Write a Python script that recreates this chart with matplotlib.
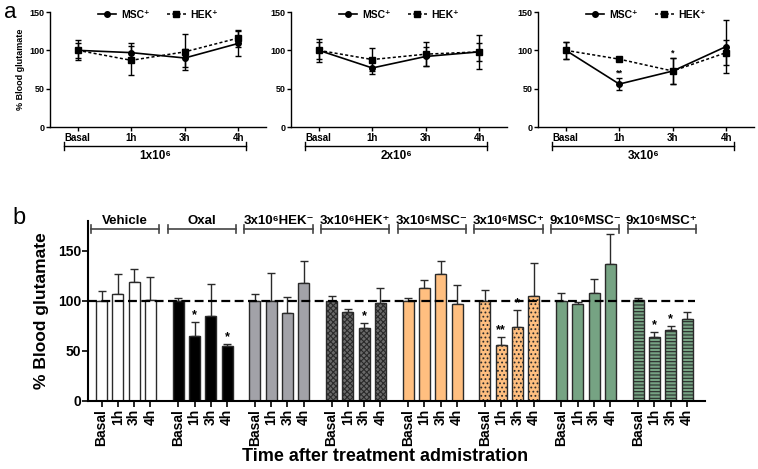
import matplotlib
matplotlib.use('Agg')
import matplotlib.pyplot as plt
import numpy as np

plt.rcParams['font.family'] = ['Liberation Sans', 'DejaVu Sans']
plt.rcParams['font.weight'] = 'bold'
plt.rcParams['axes.labelweight'] = 'bold'
plt.rcParams['hatch.linewidth'] = 0.8

# ---- panel a data ----
times = ['Basal', '1h', '3h', '4h']
doses = ['1x10⁶', '2x10⁶', '3x10⁶']
msc_mean = [[100, 97, 90, 109], [100, 77, 92, 98], [100, 56, 73, 105]]
msc_err = [[10, 12, 12, 16], [11, 8, 12, 22], [11, 8, 17, 34]]
hek_mean = [[100, 87, 98, 116], [100, 88, 95, 98], [100, 88.5, 73, 97]]
hek_err = [[13, 19, 23, 11], [15, 15, 16, 12], [11, 2, 17, 16]]
stars_a = [(2, 1, '**'), (2, 2, '*')]   # (panel, time index, label)

# ---- panel b data ----
groups = ['Vehicle', 'Oxal', '3x10⁶HEK⁻', '3x10⁶HEK⁺',
          '3x10⁶MSC⁻', '3x10⁶MSC⁺', '9x10⁶MSC⁻', '9x10⁶MSC⁺']
vals = [[100, 107, 119, 101], [100, 65, 85, 55], [100, 100, 88, 118], [100, 89, 73, 98],
        [100, 113, 127, 97], [100, 56, 74, 105], [100, 97, 108, 137], [101, 64, 71, 82]]
errs = [[10, 20, 13, 23], [3, 14, 32, 2], [7, 28, 16, 22], [5, 3, 5, 15],
        [3, 8, 13, 19], [11, 8, 17, 33], [8, 2, 14, 30], [2, 5, 3.5, 6.5]]
stars_b = [(1, 1, '*'), (1, 3, '*'), (3, 2, '*'), (5, 1, '**'), (5, 2, '*'), (7, 1, '*'), (7, 2, '*')]

orange = '#FFBF80'
green = '#76A383'
styles = [('white', None), ('black', None), ('#A2A2A8', None), ('#6a6a6a', 'xxxxxx'),
          (orange, None), (orange, '....'), (green, None), (green, '-----')]

fig = plt.figure(figsize=(7.58, 4.69), dpi=100)
W, H = 758.0, 469.0

# ---- panel a ----
lefts = [50, 291, 538]
for p in range(3):
    ax = fig.add_axes([lefts[p] / W, 1 - 127 / H, 216 / W, 115 / H])
    x = np.arange(4)
    ax.errorbar(x, msc_mean[p], yerr=msc_err[p], fmt='none', ecolor='black',
                capsize=2.5, elinewidth=1)
    ax.errorbar(x, hek_mean[p], yerr=hek_err[p], fmt='none', ecolor='black',
                capsize=2.5, elinewidth=1)
    ax.plot(x, msc_mean[p], color='black', lw=1.2, marker='o', ms=4, label='MSC⁺')
    ax.plot(x, hek_mean[p], color='black', lw=1.1, ls=(0, (2, 1.5)), marker='s', ms=4.5,
            label='HEK⁺')
    ax.set_xlim(-0.52, 3.52)
    ax.set_ylim(0, 150)
    ax.set_yticks([0, 50, 100, 150])
    ax.set_xticks(x)
    ax.set_xticklabels(times, fontsize=7)
    ax.tick_params(axis='y', labelsize=6.5, length=3, width=1, pad=1)
    ax.tick_params(axis='x', length=3, width=1, pad=1)
    for s in ['top', 'right']:
        ax.spines[s].set_visible(False)
    for s in ['left', 'bottom']:
        ax.spines[s].set_linewidth(1)
    tr = ax.get_xaxis_transform()
    ax.plot([-0.25, 3.15], [-0.165, -0.165], color='black', lw=1, transform=tr, clip_on=False)
    for xe in [-0.25, 3.15]:
        ax.plot([xe, xe], [-0.2, -0.13], color='black', lw=1, transform=tr, clip_on=False)
    ax.text(1.45, -0.25, doses[p], transform=tr, ha='center', va='center', fontsize=8.5)
    ax.legend(loc='upper center', bbox_to_anchor=(0.5, 1.1), ncol=2, frameon=False,
              fontsize=7.5, handlelength=1.8, columnspacing=1.6, handletextpad=0.5)
    for pp, ti, lab in stars_a:
        if pp == p:
            ax.text(ti, msc_mean[p][ti] + msc_err[p][ti] + 1, lab, ha='center', va='bottom', fontsize=6.5)
    if p == 0:
        ax.set_ylabel('% Blood glutamate', fontsize=6.5, labelpad=3)

fig.text(10 / W, 1 - 13 / H, 'a', fontsize=16, fontweight='normal', ha='center', va='center')

# ---- panel b ----
bx = fig.add_axes([88 / W, 1 - 400.7 / H, 617 / W, 180 / H])
gap = 4.7
ticks, labels = [], []
for g in range(len(groups)):
    xs = g * gap + np.arange(4)
    fc, hatch = styles[g]
    bx.bar(xs, vals[g], width=0.67, color=fc, edgecolor='#2a2a2a', lw=1, hatch=hatch, zorder=2)
    bx.errorbar(xs, vals[g], yerr=[np.zeros(4), errs[g]], fmt='none', ecolor='#2a2a2a',
                elinewidth=1, capsize=3, capthick=1, zorder=1)
    ticks += list(xs)
    labels += times
    x0, x1 = g * gap - 0.65, g * gap + 3.55
    bx.plot([x0, x1], [172, 172], color='#444444', lw=1.2, clip_on=False)
    for xe in [x0, x1]:
        bx.plot([xe, xe], [168, 176], color='#444444', lw=1.2, clip_on=False)
    bx.text((x0 + x1) / 2, 180, groups[g], ha='center', va='center', fontsize=9.5)

for g, i, lab in stars_b:
    bx.text(g * gap + i, vals[g][i] + errs[g][i] + 1, lab, ha='center', va='bottom', fontsize=9)

bx.plot([-0.83, 36.4], [100, 100], color='black', lw=1.6, ls=(0, (4, 2)), zorder=3)
bx.set_xlim(-0.83, 37.0)
bx.set_ylim(0, 180)
bx.set_yticks([0, 50, 100, 150])
bx.set_xticks(ticks)
bx.set_xticklabels(labels, rotation=90, fontsize=10)
bx.tick_params(axis='y', labelsize=10, length=4, width=1.2, pad=1)
bx.tick_params(axis='x', length=4, width=1.2, pad=2)
for s in ['top', 'right']:
    bx.spines[s].set_visible(False)
for s in ['left', 'bottom']:
    bx.spines[s].set_linewidth(1.5)
bx.set_ylabel('% Blood glutamate', fontsize=12.5, labelpad=6)
fig.text(385 / W, 1 - 456 / H, 'Time after treatment admistration', fontsize=13,
         ha='center', va='center')
fig.text(19 / W, 1 - 218 / H, 'b', fontsize=17, fontweight='normal', ha='center', va='center')

fig.savefig('out.png', dpi=100)
